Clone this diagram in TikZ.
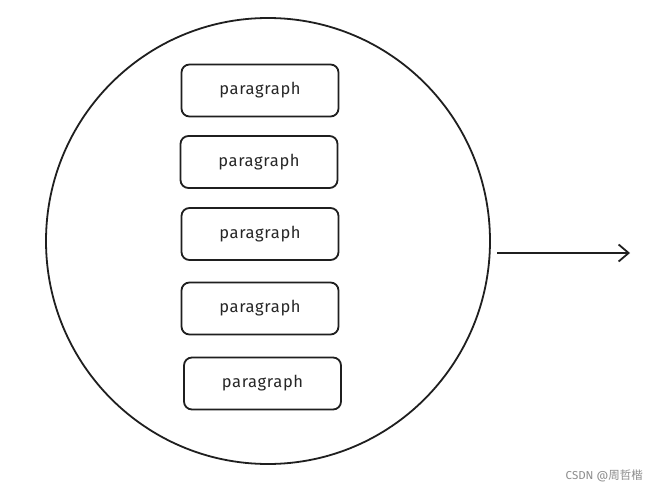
\documentclass[tikz,border=0pt]{standalone}
\usepackage{fontspec}
\setmainfont{Fira Sans}
\newfontfamily\cjk{Noto Sans CJK SC}
\usetikzlibrary{arrows.meta,shapes.geometric}
\tikzset{
  parbox/.style={draw=black!88, line width=1.8pt, rounded corners=8pt, minimum width=157pt, minimum height=52pt, inner sep=0pt, font=\fontsize{16.5}{18}\selectfont\addfontfeatures{LetterSpace=4}, text=black!85},
  outline/.style={draw=black!88, line width=1.8pt},
}
\begin{document}
\begin{tikzpicture}[x=1pt,y=-1pt]
\useasboundingbox (0,0) rectangle (648,487);
\fill[white] (0,0) rectangle (648,487);
\node[outline, ellipse, minimum width=444pt, minimum height=446pt, inner sep=0pt] (circ) at (268,241) {};
\node[parbox] (p1) at (260,90.5) {paragraph};
\node[parbox] (p2) at (259,162) {paragraph};
\node[parbox] (p3) at (260,234) {paragraph};
\node[parbox] (p4) at (260,308.5) {paragraph};
\node[parbox] (p5) at (262.5,383.5) {paragraph};
\coordinate (a0) at (497,253);
\coordinate (a1) at (630,253);
\draw[outline, -{Straight Barb[length=10pt,width=17pt]}] (a0) -- (a1);
\node[anchor=east, text=black!45, font=\fontsize{11.5}{13}\selectfont, inner sep=0pt] (wm) at (643,476) {CSDN @{\cjk 周哲楷}};
\end{tikzpicture}
\end{document}
